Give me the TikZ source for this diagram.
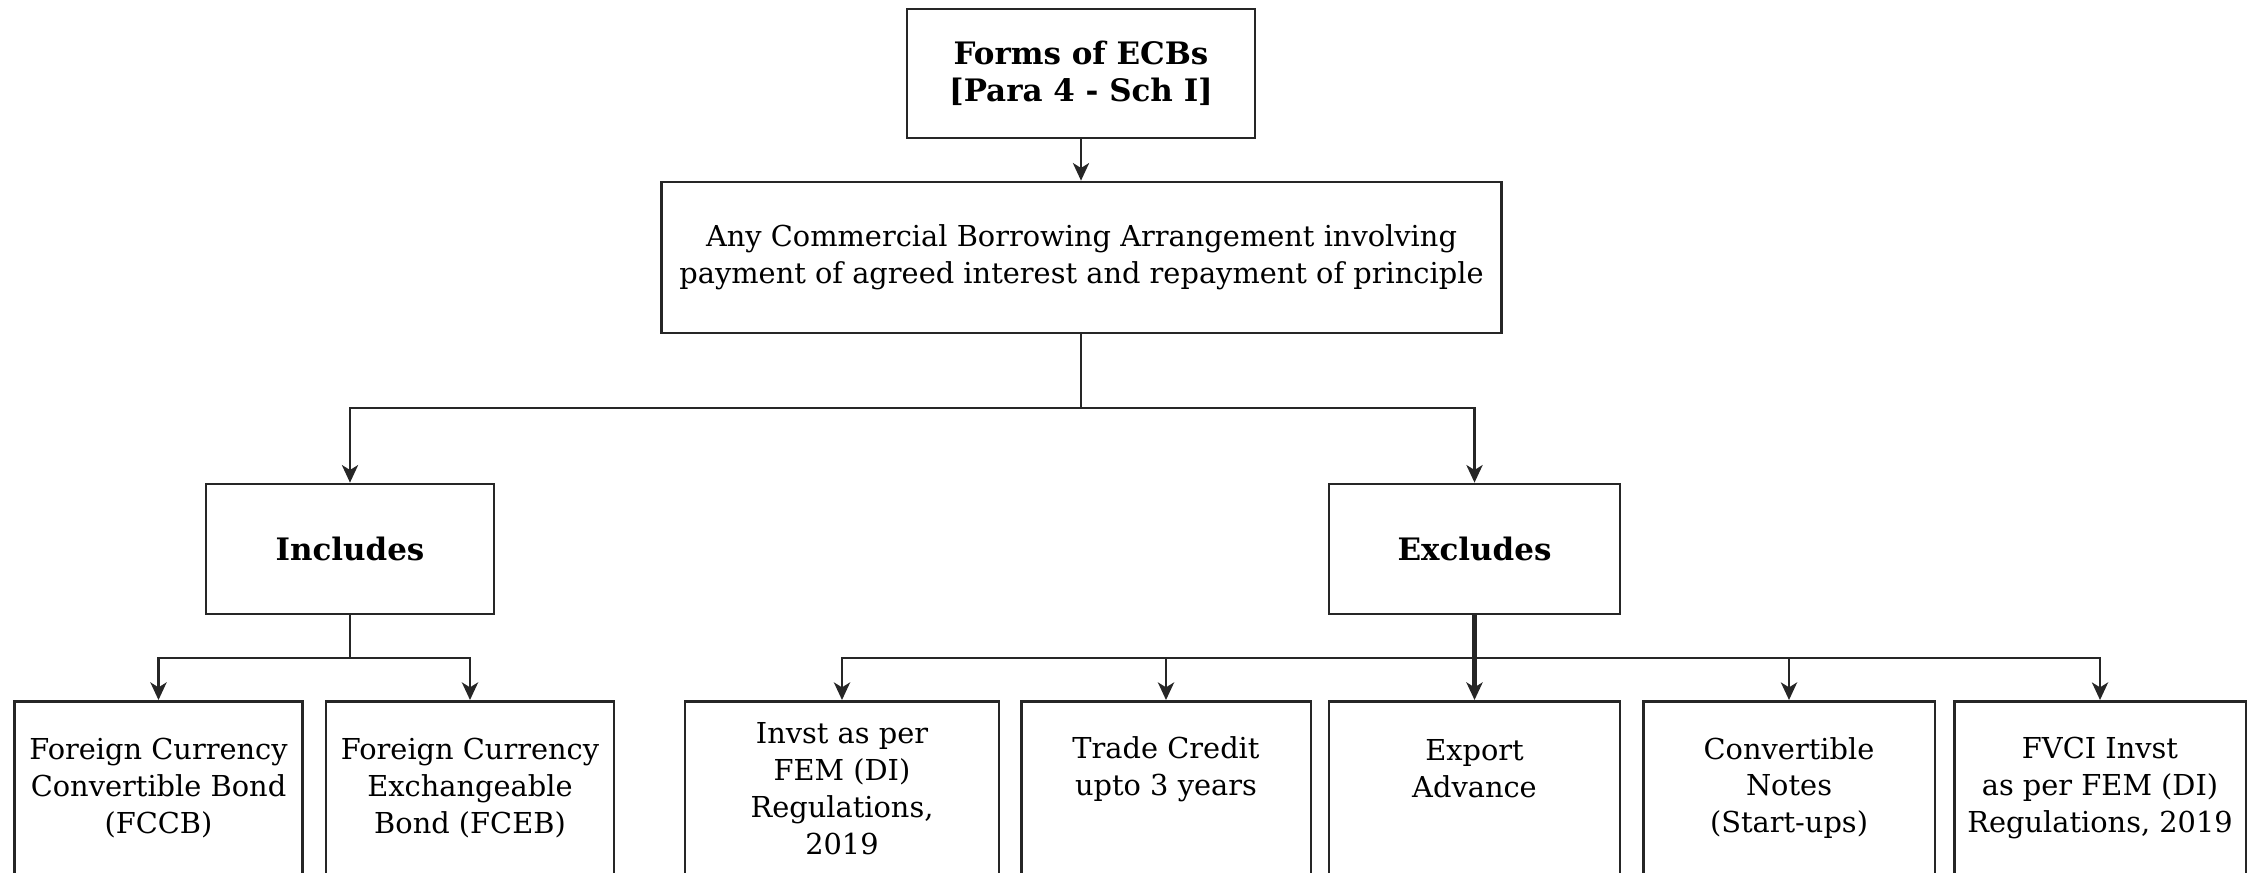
\documentclass[tikz,border=0pt]{standalone}
\usepackage{fontspec}
\setmainfont{DejaVu Serif}
\usetikzlibrary{arrows.meta}
\newcommand{\fsn}{\fontsize{8.2pt}{10.5pt}\selectfont}
\newcommand{\fsb}{\fontsize{8.8pt}{10.5pt}\selectfont\bfseries}
\begin{document}
\begin{tikzpicture}[x=0.01cm,y=-0.01cm,
  box/.style={draw=black!85, line width=0.75pt, inner sep=0pt, align=center, font=\fsn},
  boldbox/.style={box, font=\fsb},
  txt/.style={align=center, inner sep=0pt, font=\fsn},
  ln/.style={draw=black!85, line width=0.75pt},
  arr/.style={ln, -{Stealth[length=5pt,width=4.6pt,inset=1.4pt]}}]
\useasboundingbox (0,0) rectangle (2252,872);
\clip (0,0) rectangle (2252,872);
% top level
\node[boldbox, minimum width=3.48cm, minimum height=1.29cm] (top) at (1081,73.5) {Forms of ECBs\\{[Para 4 - Sch I]}};
\node[box, minimum width=8.39cm, minimum height=1.51cm] (main) at (1081.5,257.5) {Any Commercial Borrowing Arrangement involving\\payment of agreed interest and repayment of principle};
\node[boldbox, minimum width=2.88cm, minimum height=1.30cm] (incl) at (350,549) {Includes};
\node[boldbox, minimum width=2.91cm, minimum height=1.30cm] (excl) at (1474.5,549) {Excludes};
% bottom boxes
\node[box, minimum width=2.88cm, minimum height=2.4cm, anchor=north] (fccb) at (158.5,700) {};
\node[box, minimum width=2.88cm, minimum height=2.4cm, anchor=north] (fceb) at (470,700) {};
\node[box, minimum width=3.135cm, minimum height=2.4cm, anchor=north] (invst) at (842,700) {};
\node[box, minimum width=2.895cm, minimum height=2.4cm, anchor=north] (trade) at (1166,700) {};
\node[box, minimum width=2.91cm, minimum height=2.4cm, anchor=north] (export) at (1474.5,700) {};
\node[box, minimum width=2.915cm, minimum height=2.4cm, anchor=north] (conv) at (1789,700) {};
\node[box, minimum width=2.915cm, minimum height=2.4cm, anchor=north] (fvci) at (2100,700) {};
% texts
\node[txt] (fccbt) at (158.5,788) {Foreign Currency\\Convertible Bond\\(FCCB)};
\node[txt] (fcebt) at (470,788) {Foreign Currency\\Exchangeable\\Bond (FCEB)};
\node[txt] (invstt) at (842,789) {Invst as per\\FEM (DI)\\Regulations,\\2019};
\node[txt] (tradet) at (1166,769) {Trade Credit\\upto 3 years};
\node[txt] (exportt) at (1474.5,769) {Export\\Advance};
\node[txt] (convt) at (1789,788) {Convertible\\Notes\\(Start-ups)};
\node[txt] (fvcit) at (2100,788) {FVCI Invst\\as per FEM (DI)\\Regulations, 2019};
% junctions
\coordinate (j1) at (1081,408);
\coordinate (j2) at (350,658);
\coordinate (j3) at (1474.5,658);
% connectors
\draw[arr] (top.south) -- (top.south |- main.north);
\draw[ln] (main.south -| j1) -- (j1);
\draw[arr] (j1) -| (incl.north);
\draw[arr] (j1) -| (excl.north);
\draw[ln] (incl.south) -- (j2);
\draw[arr] (j2) -| (fccb.north);
\draw[arr] (j2) -| (fceb.north);
\draw[arr, line width=1.2pt] (excl.south) -- (export.north);
\draw[arr] (j3) -| (invst.north);
\draw[arr] (j3) -| (trade.north);
\draw[arr] (j3) -| (conv.north);
\draw[arr] (j3) -| (fvci.north);
\end{tikzpicture}
\end{document}
